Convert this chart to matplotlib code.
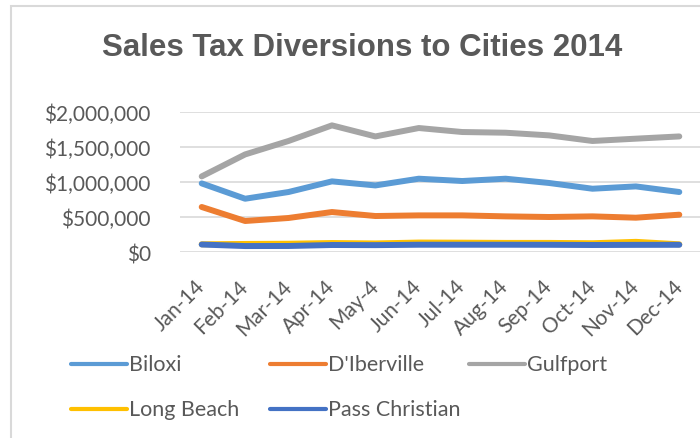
import matplotlib.pyplot as plt
from matplotlib.lines import Line2D
from matplotlib.patches import Rectangle
from matplotlib.ticker import FuncFormatter

# data
months = ["Jan-14", "Feb-14", "Mar-14", "Apr-14", "May-4", "Jun-14",
          "Jul-14", "Aug-14", "Sep-14", "Oct-14", "Nov-14", "Dec-14"]
cities = ["Biloxi", "D'Iberville", "Gulfport", "Long Beach", "Pass Christian"]
biloxi = [980000, 761000, 857000, 1009000, 951000, 1047000,
          1014000, 1047000, 986000, 904000, 937000, 857000]
diberville = [643000, 443000, 486000, 571000, 514000, 523000,
              523000, 509000, 500000, 509000, 490000, 533000]
gulfport = [1080000, 1394000, 1586000, 1809000, 1651000, 1771000,
            1714000, 1704000, 1666000, 1586000, 1619000, 1651000]
long_beach = [110000, 115000, 118000, 128000, 122000, 135000,
              133000, 130000, 130000, 125000, 145000, 110000]
pass_christian = [107000, 85000, 86000, 100000, 98000, 104000,
                  104000, 104000, 103000, 100000, 102000, 103000]
series = [biloxi, diberville, gulfport, long_beach, pass_christian]
colors = ["#5B9BD5", "#ED7D31", "#A5A5A5", "#FFC000", "#4472C4"]

W, H = 700, 439
fig = plt.figure(figsize=(7, 4.39), dpi=100)
txt = "#595959"
font = "Lato"

# chart border (right/bottom fall outside the picture)
fig.add_artist(Rectangle((11 / W, -0.1), 1.2, 1 - 7 / H + 0.1,
                         transform=fig.transFigure, fill=False,
                         edgecolor="#D9D9D9", linewidth=1.5))

ax = fig.add_axes([180 / W, 1 - 253 / H, 521 / W, 140 / H])
x = range(len(months))
for vals, c, name in zip(series, colors, cities):
    ax.plot(x, vals, color=c, linewidth=4.3, solid_capstyle="round",
            solid_joinstyle="round", label=name)

ax.set_xlim(-0.5, len(months) - 0.5)
ax.set_ylim(0, 2000000)
ax.set_yticks([0, 500000, 1000000, 1500000, 2000000])
ax.yaxis.set_major_formatter(FuncFormatter(lambda v, p: "${:,.0f}".format(v)))
ax.grid(axis="y", color="#D9D9D9", linewidth=1.2)
ax.set_axisbelow(True)
for s in ax.spines.values():
    s.set_visible(False)
ax.tick_params(axis="y", length=0, pad=21, labelsize=15, labelcolor=txt)
ax.tick_params(axis="x", length=0, pad=22, labelsize=15, labelcolor=txt)
ax.set_xticks(list(x))
ax.set_xticklabels(months, rotation=45, ha="right", va="center",
                   rotation_mode="anchor")
for lab in ax.get_xticklabels() + ax.get_yticklabels():
    lab.set_fontfamily(font)

fig.text(362 / W, 1 - 56 / H, "Sales Tax Diversions to Cities 2014",
         ha="center", va="baseline", fontsize=22.5, fontweight="bold",
         color=txt, family="Liberation Sans")

# legend laid out like the Excel one
pos = [(71, 365), (270, 365), (469, 365), (71, 410), (270, 410)]
for (px, py), c, name in zip(pos, colors, cities):
    fig.add_artist(Line2D([px / W, (px + 56) / W], [1 - py / H, 1 - py / H],
                          transform=fig.transFigure, color=c, linewidth=3,
                          solid_capstyle="round"))
    fig.text((px + 58) / W, 1 - py / H, name, ha="left", va="center",
             fontsize=15.5, color=txt, family=font)

fig.savefig("out.png", dpi=100)
